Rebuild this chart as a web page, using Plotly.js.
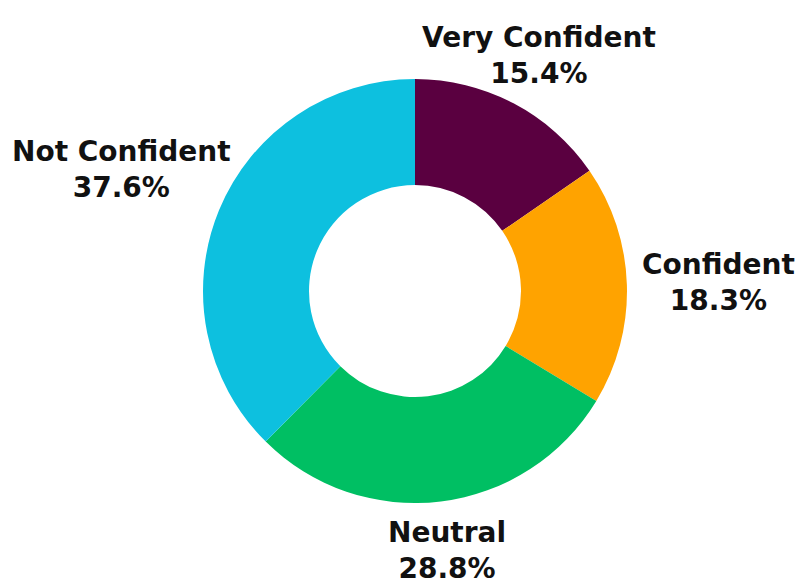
<!DOCTYPE html>
<html>
<head>
<meta charset="utf-8">
<script src="https://cdn.plot.ly/plotly-3.0.1.min.js"></script>
<style>html,body{margin:0;padding:0;background:#fff;}#chart{width:798px;height:581px;}</style>
</head>
<body>
<div id="chart"></div>
<script>
const categories = ["Very Confident", "Confident", "Neutral", "Not Confident"];
const values = [15.4, 18.3, 28.8, 37.6];
const colors = ["#5a0040", "#ffa300", "#00bf63", "#0dc0df"];

const W = 798, H = 581;
const dom = {x: [0.2544, 0.7857], y: [0.134, 0.864]};
const FONT = {family: "'DejaVu Sans', sans-serif", size: 28, color: "#111", weight: 700};

const trace = {
  type: "pie",
  labels: categories,
  values: values,
  sort: false,
  direction: "clockwise",
  rotation: 0,
  hole: 0.5,
  marker: {colors: colors, line: {width: 0}},
  textinfo: "none",
  hoverinfo: "none",
  showlegend: false,
  domain: dom
};

const total = values.reduce((a, b) => a + b, 0);
const cx = (dom.x[0] + dom.x[1]) / 2, cy = (dom.y[0] + dom.y[1]) / 2;
const Rpx = Math.min((dom.x[1] - dom.x[0]) * W, (dom.y[1] - dom.y[0]) * H) / 2;
const gap = Rpx * 1.07;
let cum = 0;
const angles = [];
const annotations = categories.map((c, i) => {
  const th = 2 * Math.PI * (cum + values[i] / 2) / total;
  cum += values[i];
  angles.push(th);
  return {
    xref: "paper", yref: "paper",
    x: cx, y: cy,
    xanchor: "center", yanchor: "middle",
    showarrow: false,
    text: "<b>" + c + "</b><br><b>" + values[i].toFixed(1) + "%</b>",
    font: FONT
  };
});

Plotly.newPlot("chart", [trace], {
  width: W, height: H,
  margin: {l: 0, r: 0, t: 0, b: 0},
  paper_bgcolor: "#fff",
  showlegend: false,
  annotations: annotations
}, {displayModeBar: false, staticPlot: true}).then(gd => {
  const els = gd.querySelectorAll(".annotation-text-g text");
  const upd = {};
  els.forEach((el, i) => {
    const b = el.getBoundingClientRect();
    const s = Math.sin(angles[i]), c = Math.cos(angles[i]);
    const ext = Math.min(
      Math.abs(s) > 1e-6 ? (b.width / 2) / Math.abs(s) : Infinity,
      Math.abs(c) > 1e-6 ? (b.height / 2) / Math.abs(c) : Infinity
    );
    const r = gap + ext;
    upd["annotations[" + i + "].x"] = cx + r * s / W;
    upd["annotations[" + i + "].y"] = cy + r * c / H;
  });
  return Plotly.relayout(gd, upd);
});
</script>
</body>
</html>
